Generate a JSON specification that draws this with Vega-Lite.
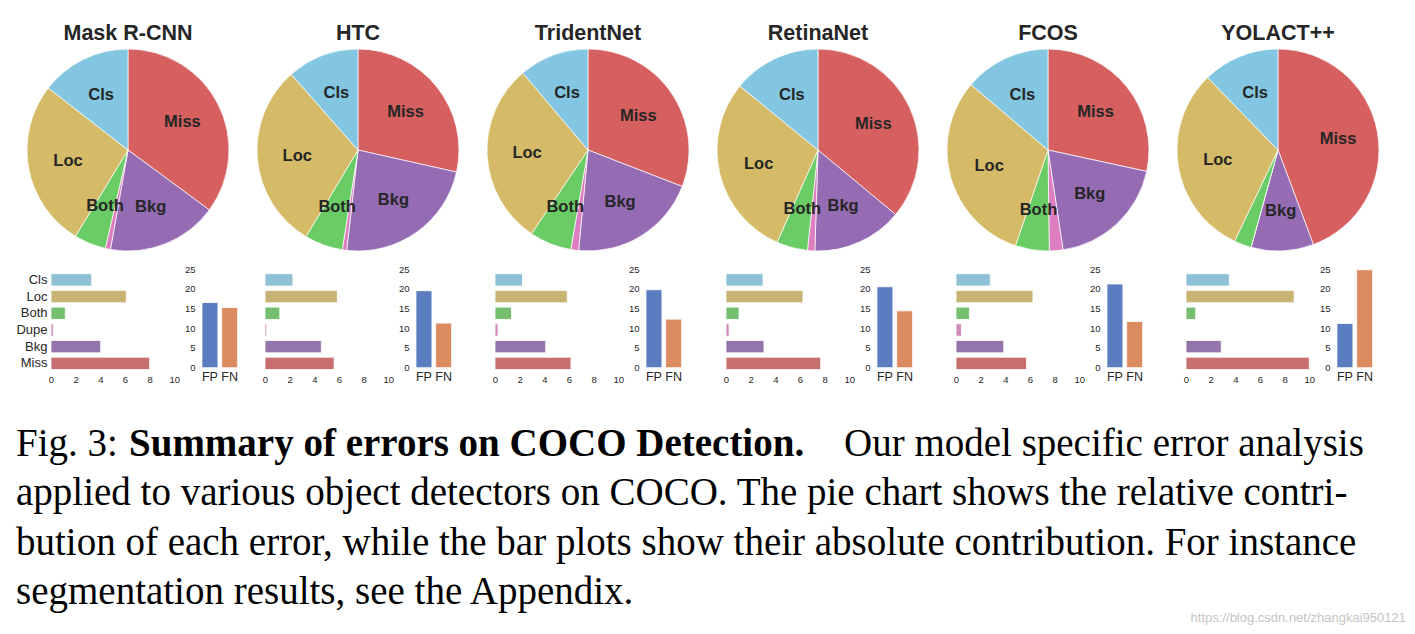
{
  "$schema": "https://vega.github.io/schema/vega-lite/v6.json",
  "background": "white",
  "padding": {"left": 15, "top": 23, "right": 5, "bottom": 5},
  "config": {
    "font": "Liberation Sans",
    "view": {"stroke": null},
    "axis": {"domain": false, "ticks": false, "grid": false, "labelFont": "Liberation Sans", "labelColor": "#262626", "title": null}
  },
  "datasets": {
    "errs": [
      {"model": "Mask R-CNN", "cat": "Miss", "k": 1, "v": 8.0, "lbl": "Miss"},
      {"model": "Mask R-CNN", "cat": "Bkg", "k": 2, "v": 4.03, "lbl": "Bkg"},
      {"model": "Mask R-CNN", "cat": "Dupe", "k": 3, "v": 0.19, "lbl": ""},
      {"model": "Mask R-CNN", "cat": "Both", "k": 4, "v": 1.16, "lbl": "Both"},
      {"model": "Mask R-CNN", "cat": "Loc", "k": 5, "v": 6.11, "lbl": "Loc"},
      {"model": "Mask R-CNN", "cat": "Cls", "k": 6, "v": 3.30, "lbl": "Cls"},
      {"model": "HTC", "cat": "Miss", "k": 1, "v": 5.60, "lbl": "Miss"},
      {"model": "HTC", "cat": "Bkg", "k": 2, "v": 4.57, "lbl": "Bkg"},
      {"model": "HTC", "cat": "Dupe", "k": 3, "v": 0.14, "lbl": ""},
      {"model": "HTC", "cat": "Both", "k": 4, "v": 1.20, "lbl": "Both"},
      {"model": "HTC", "cat": "Loc", "k": 5, "v": 5.87, "lbl": "Loc"},
      {"model": "HTC", "cat": "Cls", "k": 6, "v": 2.26, "lbl": "Cls"},
      {"model": "TridentNet", "cat": "Miss", "k": 1, "v": 6.16, "lbl": "Miss"},
      {"model": "TridentNet", "cat": "Bkg", "k": 2, "v": 4.11, "lbl": "Bkg"},
      {"model": "TridentNet", "cat": "Dupe", "k": 3, "v": 0.25, "lbl": ""},
      {"model": "TridentNet", "cat": "Both", "k": 4, "v": 1.34, "lbl": "Both"},
      {"model": "TridentNet", "cat": "Loc", "k": 5, "v": 5.86, "lbl": "Loc"},
      {"model": "TridentNet", "cat": "Cls", "k": 6, "v": 2.23, "lbl": "Cls"},
      {"model": "RetinaNet", "cat": "Miss", "k": 1, "v": 7.68, "lbl": "Miss"},
      {"model": "RetinaNet", "cat": "Bkg", "k": 2, "v": 3.08, "lbl": "Bkg"},
      {"model": "RetinaNet", "cat": "Dupe", "k": 3, "v": 0.25, "lbl": ""},
      {"model": "RetinaNet", "cat": "Both", "k": 4, "v": 1.06, "lbl": "Both"},
      {"model": "RetinaNet", "cat": "Loc", "k": 5, "v": 6.24, "lbl": "Loc"},
      {"model": "RetinaNet", "cat": "Cls", "k": 6, "v": 3.00, "lbl": "Cls"},
      {"model": "FCOS", "cat": "Miss", "k": 1, "v": 5.72, "lbl": "Miss"},
      {"model": "FCOS", "cat": "Bkg", "k": 2, "v": 3.87, "lbl": "Bkg"},
      {"model": "FCOS", "cat": "Dupe", "k": 3, "v": 0.44, "lbl": ""},
      {"model": "FCOS", "cat": "Both", "k": 4, "v": 1.09, "lbl": "Both"},
      {"model": "FCOS", "cat": "Loc", "k": 5, "v": 6.24, "lbl": "Loc"},
      {"model": "FCOS", "cat": "Cls", "k": 6, "v": 2.78, "lbl": "Cls"},
      {"model": "YOLACT++", "cat": "Miss", "k": 1, "v": 12.67, "lbl": "Miss"},
      {"model": "YOLACT++", "cat": "Bkg", "k": 2, "v": 2.86, "lbl": "Bkg"},
      {"model": "YOLACT++", "cat": "Dupe", "k": 3, "v": 0.0, "lbl": ""},
      {"model": "YOLACT++", "cat": "Both", "k": 4, "v": 0.79, "lbl": ""},
      {"model": "YOLACT++", "cat": "Loc", "k": 5, "v": 8.77, "lbl": "Loc"},
      {"model": "YOLACT++", "cat": "Cls", "k": 6, "v": 3.51, "lbl": "Cls"}
    ],
    "fpfn": [
      {"model": "Mask R-CNN", "kind": "FP", "v": 16.5},
      {"model": "Mask R-CNN", "kind": "FN", "v": 15.25},
      {"model": "HTC", "kind": "FP", "v": 19.5},
      {"model": "HTC", "kind": "FN", "v": 11.3},
      {"model": "TridentNet", "kind": "FP", "v": 19.75},
      {"model": "TridentNet", "kind": "FN", "v": 12.3},
      {"model": "RetinaNet", "kind": "FP", "v": 20.5},
      {"model": "RetinaNet", "kind": "FN", "v": 14.4},
      {"model": "FCOS", "kind": "FP", "v": 21.2},
      {"model": "FCOS", "kind": "FN", "v": 11.7},
      {"model": "YOLACT++", "kind": "FP", "v": 11.2},
      {"model": "YOLACT++", "kind": "FN", "v": 24.8}
    ],
    "caption": [
      {"line": 1, "part": "a", "text": "Fig. 3:"},
      {"line": 1, "part": "b", "text": "Summary of errors on COCO Detection."},
      {"line": 1, "part": "c", "text": "Our model specific error analysis"},
      {"line": 2, "part": "a", "text": "applied to various object detectors on COCO. The pie chart shows the relative contri-"},
      {"line": 3, "part": "a", "text": "bution of each error, while the bar plots show their absolute contribution. For instance"},
      {"line": 4, "part": "a", "text": "segmentation results, see the Appendix."},
      {"line": 4, "part": "w", "text": "https://blog.csdn.net/zhangkai950121"}
    ]
  },
  "resolve": {"scale": {"color": "independent", "theta": "independent", "x": "independent", "y": "independent"}},
  "spacing": 41,
  "vconcat": [
    {
      "spacing": 11,
      "resolve": {"scale": {"color": "independent", "theta": "independent", "x": "independent", "y": "independent"}},
      "vconcat": [
        {
          "spacing": 0,
          "bounds": "flush",
          "resolve": {"scale": {"color": "independent", "theta": "independent"}},
          "hconcat": [
            {
              "width": 224, "height": 202,
              "title": {"text": "Mask R-CNN", "fontSize": 21.5, "fontWeight": "bold", "font": "Liberation Sans", "color": "#262626", "offset": -14, "baseline": "alphabetic", "anchor": "middle"},
              "data": {"name": "errs"},
              "transform": [{"filter": "datum.model === 'Mask R-CNN'"}],
              "encoding": {"theta": {"field": "v", "type": "quantitative", "stack": true}, "order": {"field": "k", "type": "quantitative"}},
              "layer": [
                {"mark": {"type": "arc", "outerRadius": 101, "stroke": "white", "strokeWidth": 0.7},
                 "encoding": {"color": {"field": "cat", "type": "nominal", "scale": {"domain": ["Miss", "Bkg", "Dupe", "Both", "Loc", "Cls"], "range": ["#D65F5F", "#956CB4", "#DC7EC0", "#6ACC64", "#D5BB67", "#82C6E2"]}, "legend": null}}},
                {"mark": {"type": "text", "radius": 61, "fontSize": 16.5, "fontWeight": "bold", "color": "#262626", "font": "Liberation Sans"},
                 "encoding": {"text": {"field": "lbl", "type": "nominal"}}}
              ]
            },
            {
              "width": 236, "height": 202,
              "title": {"text": "HTC", "fontSize": 21.5, "fontWeight": "bold", "font": "Liberation Sans", "color": "#262626", "offset": -14, "baseline": "alphabetic", "anchor": "middle"},
              "data": {"name": "errs"},
              "transform": [{"filter": "datum.model === 'HTC'"}],
              "encoding": {"theta": {"field": "v", "type": "quantitative", "stack": true}, "order": {"field": "k", "type": "quantitative"}},
              "layer": [
                {"mark": {"type": "arc", "outerRadius": 101, "stroke": "white", "strokeWidth": 0.7},
                 "encoding": {"color": {"field": "cat", "type": "nominal", "scale": {"domain": ["Miss", "Bkg", "Dupe", "Both", "Loc", "Cls"], "range": ["#D65F5F", "#956CB4", "#DC7EC0", "#6ACC64", "#D5BB67", "#82C6E2"]}, "legend": null}}},
                {"mark": {"type": "text", "radius": 61, "fontSize": 16.5, "fontWeight": "bold", "color": "#262626", "font": "Liberation Sans"},
                 "encoding": {"text": {"field": "lbl", "type": "nominal"}}}
              ]
            },
            {
              "width": 224, "height": 202,
              "title": {"text": "TridentNet", "fontSize": 21.5, "fontWeight": "bold", "font": "Liberation Sans", "color": "#262626", "offset": -14, "baseline": "alphabetic", "anchor": "middle"},
              "data": {"name": "errs"},
              "transform": [{"filter": "datum.model === 'TridentNet'"}],
              "encoding": {"theta": {"field": "v", "type": "quantitative", "stack": true}, "order": {"field": "k", "type": "quantitative"}},
              "layer": [
                {"mark": {"type": "arc", "outerRadius": 101, "stroke": "white", "strokeWidth": 0.7},
                 "encoding": {"color": {"field": "cat", "type": "nominal", "scale": {"domain": ["Miss", "Bkg", "Dupe", "Both", "Loc", "Cls"], "range": ["#D65F5F", "#956CB4", "#DC7EC0", "#6ACC64", "#D5BB67", "#82C6E2"]}, "legend": null}}},
                {"mark": {"type": "text", "radius": 61, "fontSize": 16.5, "fontWeight": "bold", "color": "#262626", "font": "Liberation Sans"},
                 "encoding": {"text": {"field": "lbl", "type": "nominal"}}}
              ]
            },
            {
              "width": 236, "height": 202,
              "title": {"text": "RetinaNet", "fontSize": 21.5, "fontWeight": "bold", "font": "Liberation Sans", "color": "#262626", "offset": -14, "baseline": "alphabetic", "anchor": "middle"},
              "data": {"name": "errs"},
              "transform": [{"filter": "datum.model === 'RetinaNet'"}],
              "encoding": {"theta": {"field": "v", "type": "quantitative", "stack": true}, "order": {"field": "k", "type": "quantitative"}},
              "layer": [
                {"mark": {"type": "arc", "outerRadius": 101, "stroke": "white", "strokeWidth": 0.7},
                 "encoding": {"color": {"field": "cat", "type": "nominal", "scale": {"domain": ["Miss", "Bkg", "Dupe", "Both", "Loc", "Cls"], "range": ["#D65F5F", "#956CB4", "#DC7EC0", "#6ACC64", "#D5BB67", "#82C6E2"]}, "legend": null}}},
                {"mark": {"type": "text", "radius": 61, "fontSize": 16.5, "fontWeight": "bold", "color": "#262626", "font": "Liberation Sans"},
                 "encoding": {"text": {"field": "lbl", "type": "nominal"}}}
              ]
            },
            {
              "width": 224, "height": 202,
              "title": {"text": "FCOS", "fontSize": 21.5, "fontWeight": "bold", "font": "Liberation Sans", "color": "#262626", "offset": -14, "baseline": "alphabetic", "anchor": "middle"},
              "data": {"name": "errs"},
              "transform": [{"filter": "datum.model === 'FCOS'"}],
              "encoding": {"theta": {"field": "v", "type": "quantitative", "stack": true}, "order": {"field": "k", "type": "quantitative"}},
              "layer": [
                {"mark": {"type": "arc", "outerRadius": 101, "stroke": "white", "strokeWidth": 0.7},
                 "encoding": {"color": {"field": "cat", "type": "nominal", "scale": {"domain": ["Miss", "Bkg", "Dupe", "Both", "Loc", "Cls"], "range": ["#D65F5F", "#956CB4", "#DC7EC0", "#6ACC64", "#D5BB67", "#82C6E2"]}, "legend": null}}},
                {"mark": {"type": "text", "radius": 61, "fontSize": 16.5, "fontWeight": "bold", "color": "#262626", "font": "Liberation Sans"},
                 "encoding": {"text": {"field": "lbl", "type": "nominal"}}}
              ]
            },
            {
              "width": 236, "height": 202,
              "title": {"text": "YOLACT++", "fontSize": 21.5, "fontWeight": "bold", "font": "Liberation Sans", "color": "#262626", "offset": -14, "baseline": "alphabetic", "anchor": "middle"},
              "data": {"name": "errs"},
              "transform": [{"filter": "datum.model === 'YOLACT++'"}],
              "encoding": {"theta": {"field": "v", "type": "quantitative", "stack": true}, "order": {"field": "k", "type": "quantitative"}},
              "layer": [
                {"mark": {"type": "arc", "outerRadius": 101, "stroke": "white", "strokeWidth": 0.7},
                 "encoding": {"color": {"field": "cat", "type": "nominal", "scale": {"domain": ["Miss", "Bkg", "Dupe", "Both", "Loc", "Cls"], "range": ["#D65F5F", "#956CB4", "#DC7EC0", "#6ACC64", "#D5BB67", "#82C6E2"]}, "legend": null}}},
                {"mark": {"type": "text", "radius": 61, "fontSize": 16.5, "fontWeight": "bold", "color": "#262626", "font": "Liberation Sans"},
                 "encoding": {"text": {"field": "lbl", "type": "nominal"}}}
              ]
            }
          ]
        },
        {
          "spacing": 0,
          "bounds": "flush",
          "resolve": {"scale": {"color": "independent", "x": "independent", "y": "independent"}},
          "hconcat": [
            {
              "width": 35, "height": 103,
              "data": {"values": [{}]},
              "mark": {"type": "text", "text": ""},
              "encoding": {}
            },
            {
              "width": 148, "height": 103,
              "data": {"name": "errs"},
              "transform": [{"filter": "datum.model === 'Mask R-CNN'"}],
              "mark": {"type": "bar", "stroke": "white", "strokeWidth": 0.8},
              "encoding": {
                "y": {"field": "cat", "type": "nominal", "sort": ["Cls", "Loc", "Both", "Dupe", "Bkg", "Miss"], "scale": {"paddingInner": 0.26, "paddingOuter": 0.214, "align": 0.66}, "axis": {"labelFontSize": 13, "labelPadding": 4}},
                "x": {"field": "v", "type": "quantitative", "scale": {"domain": [0, 10], "nice": false, "clamp": true, "range": [0, 123.3]}, "axis": {"values": [0, 2, 4, 6, 8, 10], "labelFlush": false, "labelFontSize": 9.5, "labelPadding": 2}},
                "color": {"field": "cat", "type": "nominal", "scale": {"domain": ["Miss", "Bkg", "Dupe", "Both", "Loc", "Cls"], "range": ["#c76e6e", "#9475ab", "#d08abb", "#76bf71", "#c7b475", "#8ec1d6"]}, "legend": null}
              }
            },
            {
              "width": 66, "height": 98.7,
              "data": {"name": "fpfn"},
              "transform": [{"filter": "datum.model === 'Mask R-CNN'"}],
              "mark": {"type": "bar", "stroke": "white", "strokeWidth": 0.8},
              "encoding": {
                "x": {"field": "kind", "type": "nominal", "sort": ["FP", "FN"], "scale": {"range": [0, 41.6], "paddingInner": 0.19, "paddingOuter": 0.15}, "axis": {"labelAngle": 0, "labelFontSize": 12.5, "labelPadding": 3}},
                "y": {"field": "v", "type": "quantitative", "scale": {"domain": [0, 25], "nice": false}, "axis": {"values": [0, 5, 10, 15, 20, 25], "labelFontSize": 9.5, "labelPadding": 4}},
                "color": {"field": "kind", "type": "nominal", "scale": {"domain": ["FP", "FN"], "range": ["#597dbf", "#da8b5f"]}, "legend": null}
              }
            },
            {
              "width": 148, "height": 103,
              "data": {"name": "errs"},
              "transform": [{"filter": "datum.model === 'HTC'"}],
              "mark": {"type": "bar", "stroke": "white", "strokeWidth": 0.8},
              "encoding": {
                "y": {"field": "cat", "type": "nominal", "sort": ["Cls", "Loc", "Both", "Dupe", "Bkg", "Miss"], "scale": {"paddingInner": 0.26, "paddingOuter": 0.214, "align": 0.66}, "axis": null},
                "x": {"field": "v", "type": "quantitative", "scale": {"domain": [0, 10], "nice": false, "clamp": true, "range": [0, 123.3]}, "axis": {"values": [0, 2, 4, 6, 8, 10], "labelFlush": false, "labelFontSize": 9.5, "labelPadding": 2}},
                "color": {"field": "cat", "type": "nominal", "scale": {"domain": ["Miss", "Bkg", "Dupe", "Both", "Loc", "Cls"], "range": ["#c76e6e", "#9475ab", "#d08abb", "#76bf71", "#c7b475", "#8ec1d6"]}, "legend": null}
              }
            },
            {
              "width": 82, "height": 98.7,
              "data": {"name": "fpfn"},
              "transform": [{"filter": "datum.model === 'HTC'"}],
              "mark": {"type": "bar", "stroke": "white", "strokeWidth": 0.8},
              "encoding": {
                "x": {"field": "kind", "type": "nominal", "sort": ["FP", "FN"], "scale": {"range": [0, 41.6], "paddingInner": 0.19, "paddingOuter": 0.15}, "axis": {"labelAngle": 0, "labelFontSize": 12.5, "labelPadding": 3}},
                "y": {"field": "v", "type": "quantitative", "scale": {"domain": [0, 25], "nice": false}, "axis": {"values": [0, 5, 10, 15, 20, 25], "labelFontSize": 9.5, "labelPadding": 4}},
                "color": {"field": "kind", "type": "nominal", "scale": {"domain": ["FP", "FN"], "range": ["#597dbf", "#da8b5f"]}, "legend": null}
              }
            },
            {
              "width": 148, "height": 103,
              "data": {"name": "errs"},
              "transform": [{"filter": "datum.model === 'TridentNet'"}],
              "mark": {"type": "bar", "stroke": "white", "strokeWidth": 0.8},
              "encoding": {
                "y": {"field": "cat", "type": "nominal", "sort": ["Cls", "Loc", "Both", "Dupe", "Bkg", "Miss"], "scale": {"paddingInner": 0.26, "paddingOuter": 0.214, "align": 0.66}, "axis": null},
                "x": {"field": "v", "type": "quantitative", "scale": {"domain": [0, 10], "nice": false, "clamp": true, "range": [0, 123.3]}, "axis": {"values": [0, 2, 4, 6, 8, 10], "labelFlush": false, "labelFontSize": 9.5, "labelPadding": 2}},
                "color": {"field": "cat", "type": "nominal", "scale": {"domain": ["Miss", "Bkg", "Dupe", "Both", "Loc", "Cls"], "range": ["#c76e6e", "#9475ab", "#d08abb", "#76bf71", "#c7b475", "#8ec1d6"]}, "legend": null}
              }
            },
            {
              "width": 83, "height": 98.7,
              "data": {"name": "fpfn"},
              "transform": [{"filter": "datum.model === 'TridentNet'"}],
              "mark": {"type": "bar", "stroke": "white", "strokeWidth": 0.8},
              "encoding": {
                "x": {"field": "kind", "type": "nominal", "sort": ["FP", "FN"], "scale": {"range": [0, 41.6], "paddingInner": 0.19, "paddingOuter": 0.15}, "axis": {"labelAngle": 0, "labelFontSize": 12.5, "labelPadding": 3}},
                "y": {"field": "v", "type": "quantitative", "scale": {"domain": [0, 25], "nice": false}, "axis": {"values": [0, 5, 10, 15, 20, 25], "labelFontSize": 9.5, "labelPadding": 4}},
                "color": {"field": "kind", "type": "nominal", "scale": {"domain": ["FP", "FN"], "range": ["#597dbf", "#da8b5f"]}, "legend": null}
              }
            },
            {
              "width": 148, "height": 103,
              "data": {"name": "errs"},
              "transform": [{"filter": "datum.model === 'RetinaNet'"}],
              "mark": {"type": "bar", "stroke": "white", "strokeWidth": 0.8},
              "encoding": {
                "y": {"field": "cat", "type": "nominal", "sort": ["Cls", "Loc", "Both", "Dupe", "Bkg", "Miss"], "scale": {"paddingInner": 0.26, "paddingOuter": 0.214, "align": 0.66}, "axis": null},
                "x": {"field": "v", "type": "quantitative", "scale": {"domain": [0, 10], "nice": false, "clamp": true, "range": [0, 123.3]}, "axis": {"values": [0, 2, 4, 6, 8, 10], "labelFlush": false, "labelFontSize": 9.5, "labelPadding": 2}},
                "color": {"field": "cat", "type": "nominal", "scale": {"domain": ["Miss", "Bkg", "Dupe", "Both", "Loc", "Cls"], "range": ["#c76e6e", "#9475ab", "#d08abb", "#76bf71", "#c7b475", "#8ec1d6"]}, "legend": null}
              }
            },
            {
              "width": 82, "height": 98.7,
              "data": {"name": "fpfn"},
              "transform": [{"filter": "datum.model === 'RetinaNet'"}],
              "mark": {"type": "bar", "stroke": "white", "strokeWidth": 0.8},
              "encoding": {
                "x": {"field": "kind", "type": "nominal", "sort": ["FP", "FN"], "scale": {"range": [0, 41.6], "paddingInner": 0.19, "paddingOuter": 0.15}, "axis": {"labelAngle": 0, "labelFontSize": 12.5, "labelPadding": 3}},
                "y": {"field": "v", "type": "quantitative", "scale": {"domain": [0, 25], "nice": false}, "axis": {"values": [0, 5, 10, 15, 20, 25], "labelFontSize": 9.5, "labelPadding": 4}},
                "color": {"field": "kind", "type": "nominal", "scale": {"domain": ["FP", "FN"], "range": ["#597dbf", "#da8b5f"]}, "legend": null}
              }
            },
            {
              "width": 148, "height": 103,
              "data": {"name": "errs"},
              "transform": [{"filter": "datum.model === 'FCOS'"}],
              "mark": {"type": "bar", "stroke": "white", "strokeWidth": 0.8},
              "encoding": {
                "y": {"field": "cat", "type": "nominal", "sort": ["Cls", "Loc", "Both", "Dupe", "Bkg", "Miss"], "scale": {"paddingInner": 0.26, "paddingOuter": 0.214, "align": 0.66}, "axis": null},
                "x": {"field": "v", "type": "quantitative", "scale": {"domain": [0, 10], "nice": false, "clamp": true, "range": [0, 123.3]}, "axis": {"values": [0, 2, 4, 6, 8, 10], "labelFlush": false, "labelFontSize": 9.5, "labelPadding": 2}},
                "color": {"field": "cat", "type": "nominal", "scale": {"domain": ["Miss", "Bkg", "Dupe", "Both", "Loc", "Cls"], "range": ["#c76e6e", "#9475ab", "#d08abb", "#76bf71", "#c7b475", "#8ec1d6"]}, "legend": null}
              }
            },
            {
              "width": 82, "height": 98.7,
              "data": {"name": "fpfn"},
              "transform": [{"filter": "datum.model === 'FCOS'"}],
              "mark": {"type": "bar", "stroke": "white", "strokeWidth": 0.8},
              "encoding": {
                "x": {"field": "kind", "type": "nominal", "sort": ["FP", "FN"], "scale": {"range": [0, 41.6], "paddingInner": 0.19, "paddingOuter": 0.15}, "axis": {"labelAngle": 0, "labelFontSize": 12.5, "labelPadding": 3}},
                "y": {"field": "v", "type": "quantitative", "scale": {"domain": [0, 25], "nice": false}, "axis": {"values": [0, 5, 10, 15, 20, 25], "labelFontSize": 9.5, "labelPadding": 4}},
                "color": {"field": "kind", "type": "nominal", "scale": {"domain": ["FP", "FN"], "range": ["#597dbf", "#da8b5f"]}, "legend": null}
              }
            },
            {
              "width": 148, "height": 103,
              "data": {"name": "errs"},
              "transform": [{"filter": "datum.model === 'YOLACT++'"}],
              "mark": {"type": "bar", "stroke": "white", "strokeWidth": 0.8},
              "encoding": {
                "y": {"field": "cat", "type": "nominal", "sort": ["Cls", "Loc", "Both", "Dupe", "Bkg", "Miss"], "scale": {"paddingInner": 0.26, "paddingOuter": 0.214, "align": 0.66}, "axis": null},
                "x": {"field": "v", "type": "quantitative", "scale": {"domain": [0, 10], "nice": false, "clamp": true, "range": [0, 123.3]}, "axis": {"values": [0, 2, 4, 6, 8, 10], "labelFlush": false, "labelFontSize": 9.5, "labelPadding": 2}},
                "color": {"field": "cat", "type": "nominal", "scale": {"domain": ["Miss", "Bkg", "Dupe", "Both", "Loc", "Cls"], "range": ["#c76e6e", "#9475ab", "#d08abb", "#76bf71", "#c7b475", "#8ec1d6"]}, "legend": null}
              }
            },
            {
              "width": 41.6, "height": 98.7,
              "data": {"name": "fpfn"},
              "transform": [{"filter": "datum.model === 'YOLACT++'"}],
              "mark": {"type": "bar", "stroke": "white", "strokeWidth": 0.8},
              "encoding": {
                "x": {"field": "kind", "type": "nominal", "sort": ["FP", "FN"], "scale": {"range": [0, 41.6], "paddingInner": 0.19, "paddingOuter": 0.15}, "axis": {"labelAngle": 0, "labelFontSize": 12.5, "labelPadding": 3}},
                "y": {"field": "v", "type": "quantitative", "scale": {"domain": [0, 25], "nice": false}, "axis": {"values": [0, 5, 10, 15, 20, 25], "labelFontSize": 9.5, "labelPadding": 4}},
                "color": {"field": "kind", "type": "nominal", "scale": {"domain": ["FP", "FN"], "range": ["#597dbf", "#da8b5f"]}, "legend": null}
              }
            }
          ]
        }
      ]
    },
    {
      "width": 1378, "height": 148,
      "data": {"name": "caption"},
      "encoding": {"y": {"field": "line", "type": "ordinal", "scale": {"type": "point", "padding": 0}, "axis": null}},
      "layer": [
        {"transform": [{"filter": "datum.part === 'a'"}],
         "mark": {"type": "text", "align": "left", "baseline": "alphabetic", "font": "Liberation Serif", "fontSize": 39, "color": "black", "x": 0},
         "encoding": {"text": {"field": "text", "type": "nominal"}}},
        {"transform": [{"filter": "datum.part === 'b'"}],
         "mark": {"type": "text", "align": "left", "baseline": "alphabetic", "font": "Liberation Serif", "fontSize": 39, "fontWeight": "bold", "color": "black", "x": 113},
         "encoding": {"text": {"field": "text", "type": "nominal"}}},
        {"transform": [{"filter": "datum.part === 'c'"}],
         "mark": {"type": "text", "align": "left", "baseline": "alphabetic", "font": "Liberation Serif", "fontSize": 39, "color": "black", "x": 828},
         "encoding": {"text": {"field": "text", "type": "nominal"}}},
        {"transform": [{"filter": "datum.part === 'w'"}],
         "mark": {"type": "text", "align": "right", "baseline": "alphabetic", "font": "Liberation Sans", "fontSize": 13, "color": "#c4c4c4", "x": 1390, "dy": 18},
         "encoding": {"text": {"field": "text", "type": "nominal"}}}
      ]
    }
  ]
}
